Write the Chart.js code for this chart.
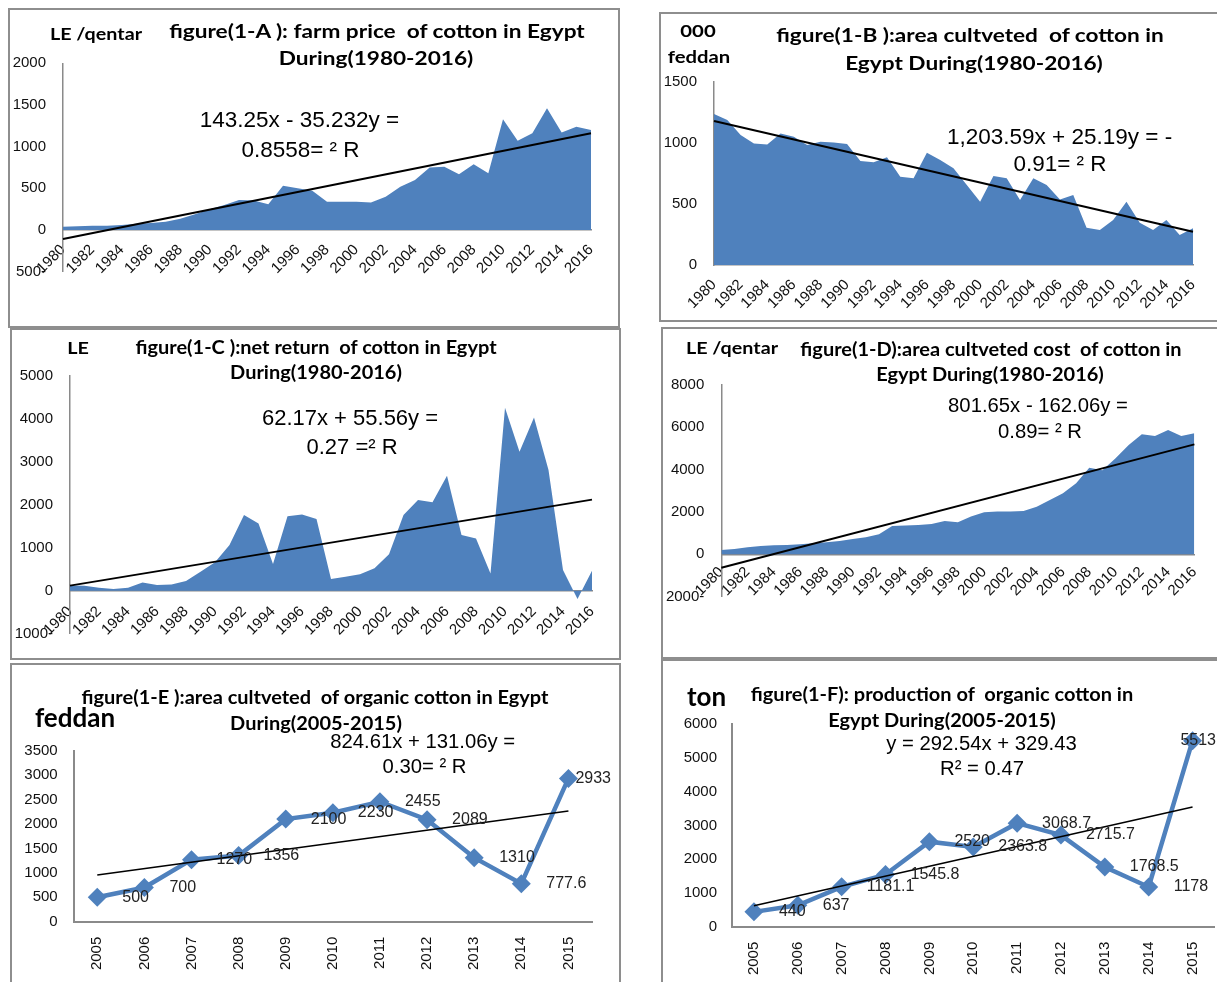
<!DOCTYPE html>
<html>
<head>
<meta charset="utf-8">
<script src="https://cdn.jsdelivr.net/npm/chart.js@4.4.1/dist/chart.umd.min.js"></script>
<style>
  html, body { margin: 0; padding: 0; background: #fff; }
  body { position: relative; width: 1217px; height: 982px; overflow: hidden; }
  .panel { position: absolute; box-sizing: border-box; border: 2px solid #8e8e8e; }
  .panel canvas { position: absolute; left: -2px; top: -2px; }
  .txt { position: absolute; white-space: pre; line-height: 1; color: #000; }
  .bold { font-family: Lato, "Noto Sans", sans-serif; font-weight: 700; }
  .eq { font-family: "Liberation Sans", Arial, sans-serif; }
</style>
</head>
<body>

<div class="panel" style="left:8px;top:8px;width:612px;height:320px"><canvas id="chartA" width="612" height="320"></canvas></div>
<div class="panel" style="left:659px;top:12px;width:580px;height:310px"><canvas id="chartB" width="570" height="310"></canvas></div>
<div class="panel" style="left:10px;top:328px;width:611px;height:332px"><canvas id="chartC" width="611" height="332"></canvas></div>
<div class="panel" style="left:661px;top:327px;width:580px;height:332px"><canvas id="chartD" width="570" height="332"></canvas></div>
<div class="panel" style="left:10px;top:663px;width:611px;height:340px"><canvas id="chartE" width="611" height="330"></canvas></div>
<div class="panel" style="left:661px;top:659px;width:580px;height:340px"><canvas id="chartF" width="565" height="330"></canvas></div>

<script>
// years on the horizontal axis of figures 1-A .. 1-D
const years = ['1980', '1981', '1982', '1983', '1984', '1985', '1986', '1987', '1988', '1989',
  '1990', '1991', '1992', '1993', '1994', '1995', '1996', '1997', '1998', '1999',
  '2000', '2001', '2002', '2003', '2004', '2005', '2006', '2007', '2008', '2009',
  '2010', '2011', '2012', '2013', '2014', '2015', '2016'];

// farm price (LE / qentar)
const farmPrice = [40, 45, 50, 52, 60, 75, 85, 100, 135, 190,
  250, 300, 360, 355, 310, 530, 500, 470, 340, 340,
  340, 330, 400, 520, 600, 750, 760, 670, 790, 680,
  1330, 1070, 1160, 1460, 1170, 1240, 1200];

// cultivated area (000 feddan)
const areaCultivated = [1235, 1186, 1063, 995, 987, 1077, 1050, 982, 1009, 1003,
  990, 851, 840, 881, 723, 709, 919, 859, 791, 654,
  518, 728, 709, 532, 709, 654, 537, 573, 305, 286,
  368, 518, 346, 286, 368, 245, 300];

// net return (LE)
const netReturn = [120, 116, 70, 40, 70, 190, 130, 147, 225, 440,
  660, 1060, 1760, 1560, 620, 1730, 1775, 1665, 270, 325,
  380, 520, 850, 1760, 2110, 2055, 2675, 1295, 1215, 400,
  4255, 3230, 4030, 2805, 480, -195, 465];

// cultivation cost (LE / qentar)
const cultivationCost = [205, 250, 330, 394, 425, 440, 472, 520, 567, 630,
  725, 800, 945, 1340, 1355, 1386, 1433, 1575, 1512, 1780,
  1985, 2016, 2016, 2050, 2250, 2570, 2880, 3355, 4095, 3970,
  4535, 5165, 5670, 5590, 5875, 5590, 5720];

// organic cotton, 2005-2015
const organicYears = ['2005', '2006', '2007', '2008', '2009', '2010', '2011', '2012', '2013', '2014', '2015'];
const organicArea = [500, 700, 1270, 1356, 2100, 2230, 2455, 2089, 1310, 777.6, 2933];
const organicProduction = [440, 637, 1181.1, 1545.8, 2520, 2363.8, 3068.7, 2715.7, 1768.5, 1178, 5513];

// linear trends y = slope * x + intercept (x = 1 .. n), figures A..F
const trendSlopes = [35.232, -25.19, 55.56, 162.06, 131.06, 292.54];
const trendIntercepts = [-143.25, 1203.59, 62.17, -801.65, 824.61, 329.43];

const BLUE = '#4f81bd';
const AXIS = '#8a8a8a';
const FONT_FAMILY = '"Liberation Sans", Arial, sans-serif';
const TICK_FONT = { family: FONT_FAMILY, size: 15 };

function tickText(v) {
  return v < 0 ? Math.abs(v) + '-' : String(v);
}

function trendPoints(labels, k) {
  const n = labels.length;
  return [
    { x: labels[0], y: trendSlopes[k] * 1 + trendIntercepts[k] },
    { x: labels[n - 1], y: trendSlopes[k] * n + trendIntercepts[k] }
  ];
}

function areaChart(id, values, k, y, frame) {
  return new Chart(document.getElementById(id), {
    type: 'line',
    data: {
      labels: years,
      datasets: [
        { data: trendPoints(years, k), borderColor: '#000', borderWidth: 2, pointRadius: 0, fill: false },
        { data: values, backgroundColor: BLUE, borderColor: BLUE, borderWidth: 0, pointRadius: 0, fill: 'origin' }
      ]
    },
    options: {
      responsive: false,
      animation: false,
      events: [],
      layout: { padding: frame.padding },
      plugins: { legend: { display: false }, tooltip: { enabled: false } },
      scales: {
        x: {
          position: frame.xAtZero ? { y: 0 } : 'bottom',
          grid: { display: false, drawTicks: false },
          border: { color: AXIS, width: 1.5 },
          ticks: {
            autoSkip: false, minRotation: 45, maxRotation: 45, padding: frame.xPad,
            font: { family: FONT_FAMILY, size: 15 }, color: '#111',
            callback: (v, i) => (i % 2 === 0 ? years[i] : '')
          },
          afterFit: s => { s.height = frame.xHeight; }
        },
        y: {
          min: y[0], max: y[1],
          grid: { display: false, drawTicks: false },
          border: { color: AXIS, width: 1.5 },
          ticks: { stepSize: y[2], padding: 17, font: TICK_FONT, color: '#111', callback: tickText },
          afterFit: s => { s.width = frame.yWidth; }
        }
      }
    }
  });
}

// value labels to the right of each marker
const pointLabels = {
  id: 'pointLabels',
  afterDatasetsDraw(chart) {
    const ctx = chart.ctx;
    const meta = chart.getDatasetMeta(1);
    const values = chart.data.datasets[1].data;
    ctx.save();
    ctx.font = '16px ' + FONT_FAMILY;
    ctx.fillStyle = '#222';
    ctx.textBaseline = 'middle';
    meta.data.forEach((pt, i) => {
      const text = String(values[i]);
      const w = ctx.measureText(text).width;
      const x = Math.min(pt.x + 25, chart.width - 10 - w);
      ctx.fillText(text, x, pt.y);
    });
    ctx.restore();
  }
};

function organicChart(id, values, k, y, frame) {
  return new Chart(document.getElementById(id), {
    type: 'line',
    data: {
      labels: organicYears,
      datasets: [
        { data: trendPoints(organicYears, k), borderColor: '#000', borderWidth: 1.5, pointRadius: 0, fill: false },
        {
          data: values, borderColor: BLUE, borderWidth: 4.5, fill: false,
          pointStyle: 'rectRot', pointRadius: 9.5, pointBackgroundColor: BLUE, pointBorderColor: BLUE, pointBorderWidth: 0
        }
      ]
    },
    options: {
      responsive: false,
      animation: false,
      events: [],
      layout: { padding: frame.padding },
      plugins: { legend: { display: false }, tooltip: { enabled: false } },
      scales: {
        x: {
          offset: true,
          grid: { display: false, drawTicks: false },
          border: { color: AXIS, width: 2 },
          ticks: { minRotation: 90, maxRotation: 90, padding: frame.xPad, font: TICK_FONT, color: '#111' },
          afterFit: s => { s.height = frame.xHeight; }
        },
        y: {
          min: y[0], max: y[1],
          grid: { display: false, drawTicks: false },
          border: { color: AXIS, width: 2 },
          ticks: { stepSize: y[2], padding: frame.yPad, font: TICK_FONT, color: '#111', callback: tickText },
          afterFit: s => { s.width = frame.yWidth; }
        }
      }
    },
    plugins: [pointLabels]
  });
}

areaChart('chartA', farmPrice, 0, [-500, 2000, 500],
  { xAtZero: true, xHeight: 0, xPad: 11, yWidth: 55, padding: { left: 0, top: 55.3, right: 29, bottom: 56.3 } });
areaChart('chartB', areaCultivated, 1, [0, 1500, 500],
  { xAtZero: false, xHeight: 55, xPad: 11, yWidth: 55, padding: { left: 0, top: 69.7, right: 36, bottom: 2 } });
areaChart('chartC', netReturn, 2, [-1000, 5000, 1000],
  { xAtZero: true, xHeight: 0, xPad: 12, yWidth: 60, padding: { left: 0, top: 47.7, right: 29, bottom: 26.3 } });
areaChart('chartD', cultivationCost, 3, [-2000, 8000, 2000],
  { xAtZero: true, xHeight: 0, xPad: 9, yWidth: 60.3, padding: { left: 0, top: 58, right: 36.6, bottom: 62.4 } });
organicChart('chartE', organicArea, 4, [0, 3500, 500],
  { xHeight: 60, xPad: 15, yWidth: 63.7, yPad: 16, padding: { left: 0, top: 87.7, right: 29, bottom: 11.3 } });
organicChart('chartF', organicProduction, 5, [0, 6000, 1000],
  { xHeight: 55, xPad: 15, yWidth: 71, yPad: 15, padding: { left: 0, top: 65.3, right: 10, bottom: 7.3 } });

// titles, units and trend equations: [style, size, centre x, centre y, text, horizontal stretch]
const labels = [
  ['bold', 19.5, 376.5, 30.5, 'figure(1-A ): farm price  of cotton in Egypt', 1.16],
  ['bold', 19.5, 376, 58, 'During(1980-2016)', 1.16],
  ['bold', 17, 96, 32.5, 'LE /qentar', 1.16],
  ['eq', 22.5, 299.5, 120, '143.25x - 35.232y =', 1],
  ['eq', 22.5, 300.5, 149.5, '0.8558= \u00b2 R', 1],

  ['bold', 19.5, 969.5, 35, 'figure(1-B ):area cultveted  of cotton in', 1.16],
  ['bold', 19.5, 974, 63, 'Egypt During(1980-2016)', 1.16],
  ['bold', 17.5, 698, 30.5, '000', 1.16],
  ['bold', 17.5, 698.5, 56.5, 'feddan', 1.16],
  ['eq', 22.5, 1059.6, 137, '1,203.59x + 25.19y = -', 1],
  ['eq', 22.5, 1060, 164, '0.91= \u00b2 R', 1],

  ['bold', 17, 78, 347, 'LE', 1.16],
  ['bold', 18, 316, 347, 'figure(1-C ):net return  of cotton in Egypt', 1.11],
  ['bold', 18, 315.5, 372, 'During(1980-2016)', 1.11],
  ['eq', 22, 350, 418, '62.17x + 55.56y =', 1],
  ['eq', 22, 352, 446.5, '0.27 =\u00b2 R', 1],

  ['bold', 17, 732, 347, 'LE /qentar', 1.16],
  ['bold', 18, 990.5, 349, 'figure(1-D):area cultveted cost  of cotton in', 1.11],
  ['bold', 18, 990, 374, 'Egypt During(1980-2016)', 1.11],
  ['eq', 20.3, 1038, 405, '801.65x - 162.06y =', 1],
  ['eq', 20.3, 1040, 431, '0.89= \u00b2 R', 1],

  ['bold', 18, 315, 697, 'figure(1-E ):area cultveted  of organic cotton in Egypt', 1.11],
  ['bold', 18, 315.5, 722.5, 'During(2005-2015)', 1.11],
  ['bold', 26, 75, 717, 'feddan', 1],
  ['eq', 20.3, 422.7, 741, '824.61x + 131.06y =', 1],
  ['eq', 20.3, 424.5, 766, '0.30= \u00b2 R', 1],

  ['bold', 26, 706.5, 696, 'ton', 1],
  ['bold', 18, 942, 693.5, 'figure(1-F): production of  organic cotton in', 1.11],
  ['bold', 18, 942, 720, 'Egypt During(2005-2015)', 1.11],
  ['eq', 20.3, 981.5, 742.7, 'y = 292.54x + 329.43', 1],
  ['eq', 20.3, 982, 768.3, 'R\u00b2 = 0.47', 1]
];

labels.forEach(([cls, size, x, y, text, stretch]) => {
  const el = document.createElement('div');
  el.className = 'txt ' + cls;
  el.style.fontSize = size + 'px';
  el.style.left = x + 'px';
  el.style.top = y + 'px';
  el.style.transform = 'translate(-50%, -50%) scaleX(' + stretch + ')';
  el.textContent = text;
  document.body.appendChild(el);
});
</script>
</body>
</html>
